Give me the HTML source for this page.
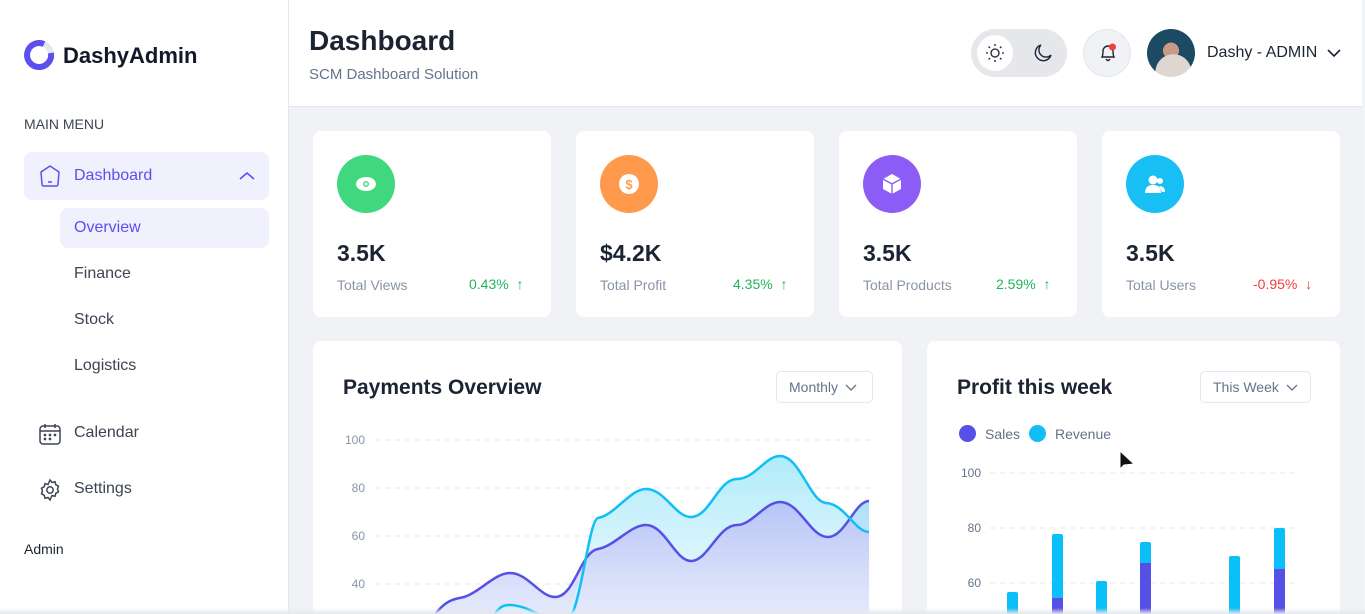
<!DOCTYPE html>
<html style="width:1365px;height:614px;overflow:hidden"><head><meta charset="utf-8"><style>
*{margin:0;padding:0;box-sizing:border-box}
body{width:1365px;height:614px;overflow:hidden;background:#f1f2f5;font-family:"Liberation Sans",sans-serif;position:relative;color:#1c2434}
.a{position:absolute}
.side{left:0;top:0;width:289px;height:614px;background:#fff;border-right:1px solid #e2e8f0}
.head{left:289px;top:0;width:1073px;height:107px;background:#fff;border-bottom:1px solid #e2e8f0}
.card{background:#fff;border-radius:8px}
.nav{font-size:16px;color:#3d4451}
.ic{width:58px;height:58px;border-radius:50%}
.big{font-size:23px;font-weight:bold;color:#1c2434}
.lbl{font-size:14px;color:#8a94a6}
.pct{font-size:14px}
.sel{border:1px solid #e2e8f0;border-radius:5px;font-size:14px;color:#64748b;height:32px;line-height:30px;padding-left:12px}
</style></head><body>
<div class="a side"></div>
<svg class="a" style="left:24px;top:40px" width="30" height="30" viewBox="0 0 30 30"><circle cx="15" cy="15" r="12" fill="none" stroke="#e5e7eb" stroke-width="6"/><path d="M20 4.1 A12 12 0 1 0 26.9 13" fill="none" stroke="#5b4ff0" stroke-width="6"/></svg>
<div class="a" style="left:63px;top:43px;font-size:22px;font-weight:bold;color:#111827">DashyAdmin</div>
<div class="a" style="left:24px;top:116px;font-size:14px;color:#3d4451">MAIN MENU</div>
<div class="a" style="left:24px;top:152px;width:245px;height:48px;background:#f1f0fd;border-radius:8px"></div>
<svg class="a" style="left:38px;top:164px" width="24" height="24" viewBox="0 0 24 24"><path d="M12 2 L21 8 L20 20 Q20 22 18 22 L6 22 Q4 22 4 20 L3 8 Z" fill="none" stroke="#5b4ff0" stroke-width="1.5" stroke-linejoin="round"/><path d="M10 18h4" stroke="#5b4ff0" stroke-width="1.5"/></svg>
<div class="a nav" style="left:74px;top:167px;color:#5b4ff0">Dashboard</div>
<svg class="a" style="left:238px;top:170px" width="18" height="12"><path d="M2 9 L9 3 L16 9" fill="none" stroke="#5b4ff0" stroke-width="1.6"/></svg>
<div class="a" style="left:60px;top:208px;width:209px;height:40px;background:#f1f0fd;border-radius:8px"></div>
<div class="a nav" style="left:74px;top:219px;color:#5b4ff0">Overview</div>
<div class="a nav" style="left:74px;top:265px">Finance</div>
<div class="a nav" style="left:74px;top:311px">Stock</div>
<div class="a nav" style="left:74px;top:357px">Logistics</div>
<svg class="a" style="left:38px;top:422px" width="24" height="24" viewBox="0 0 24 24" fill="none" stroke="#3d4451" stroke-width="1.5"><rect x="2" y="4" width="20" height="18" rx="3"/><path d="M2 9h20M7 2v4M17 2v4"/><circle cx="7" cy="13" r=".6"/><circle cx="12" cy="13" r=".6"/><circle cx="17" cy="13" r=".6"/><circle cx="7" cy="17" r=".6"/><circle cx="12" cy="17" r=".6"/></svg>
<div class="a nav" style="left:74px;top:424px">Calendar</div>
<svg class="a" style="left:38px;top:478px" width="24" height="24" viewBox="0 0 24 24" fill="none" stroke="#3d4451" stroke-width="1.5"><circle cx="12" cy="12" r="3.2"/><path d="M12 2l2 2.5 3-.8.8 3 2.7 1.5-1 2.8 1 2.8-2.7 1.5-.8 3-3-.8L12 22l-2-2.5-3 .8-.8-3L3.5 15.8l1-2.8-1-2.8L6.2 8.7l.8-3 3 .8z"/></svg>
<div class="a nav" style="left:74px;top:480px">Settings</div>
<div class="a" style="left:24px;top:541px;font-size:14px;color:#1c2434">Admin</div>

<div class="a head"></div>
<div class="a" style="left:309px;top:25px;font-size:28px;font-weight:bold;color:#1c2434">Dashboard</div>
<div class="a" style="left:309px;top:66px;font-size:15px;color:#64748b">SCM Dashboard Solution</div>
<div class="a" style="left:971px;top:29px;width:96px;height:48px;border-radius:24px;background:#e5e7eb"></div>
<div class="a" style="left:977px;top:35px;width:36px;height:36px;border-radius:50%;background:#fff"></div>
<svg class="a" style="left:985px;top:43px" width="20" height="20" viewBox="0 0 20 20" fill="none" stroke="#1c2434" stroke-width="1.3"><circle cx="10" cy="10" r="4"/><path d="M10 1v2M10 17v2M1 10h2M17 10h2M3.6 3.6l1.4 1.4M15 15l1.4 1.4M3.6 16.4L5 15M15 5l1.4-1.4"/></svg>
<svg class="a" style="left:1033px;top:43px" width="20" height="20" viewBox="0 0 20 20"><path d="M8 2 A8 8 0 1 0 18 12 A6.5 6.5 0 0 1 8 2Z" fill="none" stroke="#1c2434" stroke-width="1.4"/></svg>
<div class="a" style="left:1083px;top:29px;width:48px;height:48px;border-radius:50%;background:#f1f2f5;border:1px solid #e2e8f0"></div>
<svg class="a" style="left:1097px;top:42px" width="22" height="22" viewBox="0 0 22 22" fill="none" stroke="#1c2434" stroke-width="1.4"><path d="M5 15 Q6 13 6 9 A5 5 0 0 1 16 9 Q16 13 17 15 Z M9 17 Q11 20 13 17"/><circle cx="15.5" cy="5" r="3.5" fill="#f23d3d" stroke="none"/></svg>
<div class="a" style="left:1147px;top:29px;width:48px;height:48px;border-radius:50%;background:radial-gradient(circle at 55% 90%,#ddd7cf 0 35%,transparent 36%),radial-gradient(circle at 50% 45%,#c99a86 0 22%,transparent 23%),#1d4a63"></div>
<div class="a" style="left:1207px;top:44px;font-size:16px;color:#1c2434">Dashy - ADMIN</div>
<svg class="a" style="left:1326px;top:48px" width="16" height="10"><path d="M2 2 L8 8 L14 2" fill="none" stroke="#1c2434" stroke-width="1.6"/></svg>
<div class="a" style="left:1362px;top:0;width:3px;height:614px;background:#f3f4f6"></div>

<div class="a card" style="left:313px;top:131px;width:238px;height:186px"></div>
<div class="a card" style="left:576px;top:131px;width:238px;height:186px"></div>
<div class="a card" style="left:839px;top:131px;width:238px;height:186px"></div>
<div class="a card" style="left:1102px;top:131px;width:238px;height:186px"></div>
<div class="a ic" style="left:337px;top:155px;background:#3fd87f"></div>
<svg class="a" style="left:354px;top:175px" width="24" height="18"><ellipse cx="12" cy="9" rx="10" ry="7" fill="#fff"/><circle cx="12" cy="9" r="3" fill="#3fd87f"/><circle cx="12" cy="9" r="1.6" fill="#fff"/></svg>
<div class="a ic" style="left:600px;top:155px;background:#ff9a4d"></div>
<svg class="a" style="left:618px;top:173px" width="22" height="22"><circle cx="11" cy="11" r="10" fill="#fff"/><text x="11" y="16" text-anchor="middle" font-size="13" font-weight="bold" fill="#ff9a4d" font-family="Liberation Sans">$</text></svg>
<div class="a ic" style="left:863px;top:155px;background:#8b5cf6"></div>
<svg class="a" style="left:880px;top:172px" width="24" height="24" viewBox="0 0 24 24"><path d="M12 2 L21 7 L21 17 L12 22 L3 17 L3 7Z" fill="#fff"/><path d="M3 7 L12 12 L21 7 M12 12 V22" stroke="#8b5cf6" stroke-width="1.4" fill="none"/></svg>
<div class="a ic" style="left:1126px;top:155px;background:#18bff5"></div>
<svg class="a" style="left:1143px;top:172px" width="24" height="24"><circle cx="10" cy="8" r="4.5" fill="#fff"/><path d="M2 21 Q2 13 10 13 Q18 13 18 21Z" fill="#fff"/><circle cx="17" cy="9" r="3" fill="#fff"/><path d="M16 14 Q22 14 22 20 L19 20Z" fill="#fff"/></svg>
<div class="a big" style="left:337px;top:240px">3.5K</div>
<div class="a big" style="left:600px;top:240px">$4.2K</div>
<div class="a big" style="left:863px;top:240px">3.5K</div>
<div class="a big" style="left:1126px;top:240px">3.5K</div>
<div class="a lbl" style="left:337px;top:277px">Total Views</div>
<div class="a lbl" style="left:600px;top:277px">Total Profit</div>
<div class="a lbl" style="left:863px;top:277px">Total Products</div>
<div class="a lbl" style="left:1126px;top:277px">Total Users</div>
<div class="a pct" style="left:469px;top:276px;color:#22b45a">0.43% &nbsp;↑</div>
<div class="a pct" style="left:733px;top:276px;color:#22b45a">4.35% &nbsp;↑</div>
<div class="a pct" style="left:996px;top:276px;color:#22b45a">2.59% &nbsp;↑</div>
<div class="a pct" style="left:1253px;top:276px;color:#f23d3d">-0.95% &nbsp;↓</div>

<div class="a card" style="left:313px;top:341px;width:589px;height:273px;border-radius:8px 8px 0 0"></div>
<div class="a" style="left:343px;top:376px;font-size:21px;font-weight:bold;color:#1c2434">Payments Overview</div>
<div class="a sel" style="left:776px;top:371px;width:97px">Monthly <svg width="12" height="8" style="margin-left:3px"><path d="M1 1 L6 6 L11 1" fill="none" stroke="#64748b" stroke-width="1.3"/></svg></div>
<svg class="a" style="left:313px;top:341px" width="589" height="273" viewBox="313 341 589 273">
<defs>
<linearGradient id="gc" x1="0" y1="0" x2="0" y2="1"><stop offset="0" stop-color="#9be6f9" stop-opacity=".8"/><stop offset="1" stop-color="#e6f7fd" stop-opacity=".5"/></linearGradient>
<linearGradient id="gp" x1="0" y1="0" x2="0" y2="1"><stop offset="0" stop-color="#a8b8f5" stop-opacity=".85"/><stop offset="1" stop-color="#e0e6fb" stop-opacity=".6"/></linearGradient>
</defs>
<g font-size="12" fill="#8a94a6" font-family="Liberation Sans" text-anchor="end"><text x="365" y="444">100</text><text x="365" y="492">80</text><text x="365" y="540">60</text><text x="365" y="588">40</text></g>
<g stroke="#e5e7eb" stroke-dasharray="5 5"><path d="M375 440H870M375 488H870M375 536H870M375 584H870"/></g>
<path d="M420 640 C440 600 450 600 464 597 C480 592 495 573 510 573 C528 573 540 597 555 597 C575 597 580 552 598 549 C615 546 630 525 646 525 C665 525 675 561 691 561 C708 561 718 525 737 525 C752 525 765 502 780 502 C800 502 810 537 828 537 C845 537 855 501 869 501 L869 614 L420 614Z" fill="url(#gp)"/>
<path d="M480 640 C495 610 500 605 509 605 C530 605 545 622 565 622 C580 622 588 520 598 518 C615 515 630 489 646 489 C665 489 675 517 691 517 C710 517 718 479 737 479 C755 479 765 456 780 456 C800 456 810 502 826 503 C845 504 855 532 869 532 L869 501 C855 501 845 537 828 537 C810 537 800 502 780 502 C765 502 752 525 737 525 C718 525 708 561 691 561 C675 561 665 525 646 525 C630 525 615 546 598 549 C585 551 575 600 565 620Z" fill="url(#gc)"/>
<path d="M420 640 C440 600 450 600 464 597 C480 592 495 573 510 573 C528 573 540 597 555 597 C575 597 580 552 598 549 C615 546 630 525 646 525 C665 525 675 561 691 561 C708 561 718 525 737 525 C752 525 765 502 780 502 C800 502 810 537 828 537 C845 537 855 501 869 501" fill="none" stroke="#5750e6" stroke-width="2.5"/>
<path d="M480 640 C495 610 500 605 509 605 C530 605 545 622 565 622 C580 622 588 520 598 518 C615 515 630 489 646 489 C665 489 675 517 691 517 C710 517 718 479 737 479 C755 479 765 456 780 456 C800 456 810 502 826 503 C845 504 855 532 869 532" fill="none" stroke="#12bff5" stroke-width="2.5"/>
</svg>

<div class="a card" style="left:927px;top:341px;width:413px;height:273px;border-radius:8px 8px 0 0"></div>
<div class="a" style="left:957px;top:376px;font-size:21px;font-weight:bold;color:#1c2434">Profit this week</div>
<div class="a sel" style="left:1200px;top:371px;width:111px">This Week <svg width="12" height="8" style="margin-left:3px"><path d="M1 1 L6 6 L11 1" fill="none" stroke="#64748b" stroke-width="1.3"/></svg></div>
<div class="a" style="left:959px;top:425px;width:17px;height:17px;border-radius:50%;background:#5750e6"></div>
<div class="a" style="left:985px;top:426px;font-size:14px;color:#64748b">Sales</div>
<div class="a" style="left:1029px;top:425px;width:17px;height:17px;border-radius:50%;background:#12bff5"></div>
<div class="a" style="left:1055px;top:426px;font-size:14px;color:#64748b">Revenue</div>
<svg class="a" style="left:927px;top:341px" width="413" height="273" viewBox="927 341 413 273">
<g font-size="12" fill="#64748b" font-family="Liberation Sans" text-anchor="end"><text x="981" y="477">100</text><text x="981" y="532">80</text><text x="981" y="587">60</text></g>
<g stroke="#e5e7eb" stroke-dasharray="5 5"><path d="M990 473H1296M990 528H1296M990 583H1296"/></g>
<g fill="#0bbff8">
<rect x="1007" y="592" width="11" height="30" rx="2"/>
<rect x="1052" y="534" width="11" height="90" rx="2"/>
<rect x="1096" y="581" width="11" height="40" rx="2"/>
<rect x="1140" y="542" width="11" height="80" rx="2"/>
<rect x="1229" y="556" width="11" height="70" rx="2"/>
<rect x="1274" y="528" width="11" height="90" rx="2"/>
</g>
<g fill="#5750e6"><rect x="1052" y="598" width="11" height="20"/><rect x="1140" y="563" width="11" height="60"/><rect x="1274" y="569" width="11" height="50"/></g>
<path d="M1120 451 L1120 469 L1124 465 L1134 464Z" fill="#111" stroke="#fff" stroke-width="1"/>
</svg>
<div class="a" style="left:0;top:608px;width:1365px;height:6px;background:linear-gradient(#fff0,#e5e7eb)"></div>
</body></html>
